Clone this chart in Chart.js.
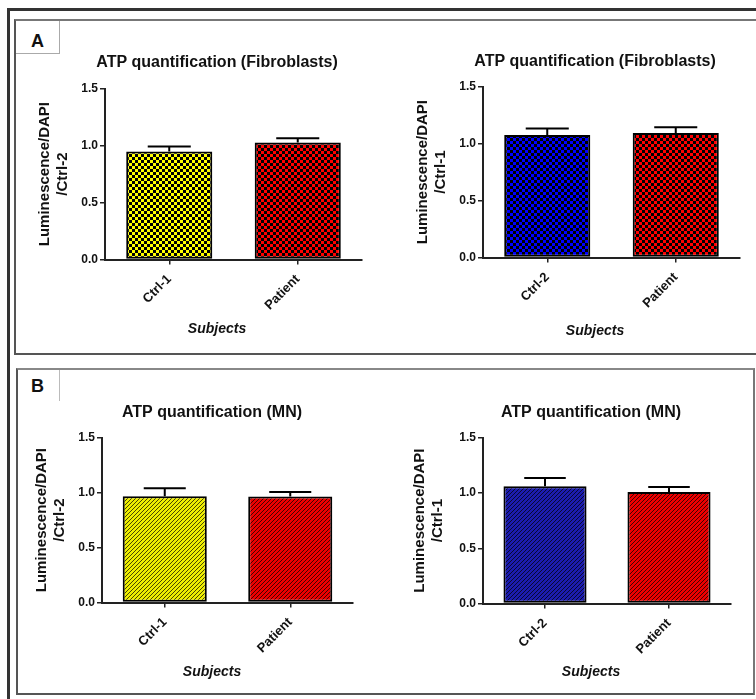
<!DOCTYPE html>
<html>
<head>
<meta charset="utf-8">
<script src="https://cdn.jsdelivr.net/npm/chart.js@4.4.0/dist/chart.umd.min.js"></script>
<style>
  html, body { margin: 0; padding: 0; background: #fff; overflow: hidden; }
  body { width: 756px; height: 699px; position: relative; font-family: "Liberation Sans", Arial, sans-serif; }
  .frame { position: absolute; box-sizing: border-box; }
  canvas { position: absolute; }
  .tag { position: absolute; font-weight: bold; font-size: 18px; color: #111; }
</style>
</head>
<body>
<div class="frame" style="left:7px;top:8px;width:800px;height:800px;border:3px solid #333;"></div>
<div class="frame" style="left:14px;top:19px;width:800px;height:336px;border:2px solid #555;border-top-color:#777;"></div>
<div class="frame" style="left:16px;top:21px;width:44px;height:33px;border-right:1px solid #aaa;border-bottom:1px solid #aaa;"></div>
<div class="tag" style="left:31px;top:31px;">A</div>
<div class="frame" style="left:16px;top:368px;width:739px;height:327px;border:2px solid #555;border-top-color:#888;border-right-color:#777;"></div>
<div class="frame" style="left:59px;top:370px;width:1px;height:31px;background:#bbb;"></div>
<div class="tag" style="left:31px;top:376px;">B</div>

<canvas id="fibroLeft"></canvas>
<canvas id="fibroRight"></canvas>
<canvas id="mnLeft"></canvas>
<canvas id="mnRight"></canvas>

<script>
// values (mean and upper SEM)
const fibroLeftLabels = ['Ctrl-1', 'Patient'];
const fibroLeftMeans = [0.948, 1.027];
const fibroLeftErr = [0.044, 0.037];

const fibroRightLabels = ['Ctrl-2', 'Patient'];
const fibroRightMeans = [1.076, 1.094];
const fibroRightErr = [0.056, 0.05];

const mnLeftLabels = ['Ctrl-1', 'Patient'];
const mnLeftMeans = [0.967, 0.964];
const mnLeftErr = [0.072, 0.041];

const mnRightLabels = ['Ctrl-2', 'Patient'];
const mnRightMeans = [1.06, 1.009];
const mnRightErr = [0.075, 0.045];

const yTicks = [0, 0.5, 1.0, 1.5];
const fibroTitle = 'ATP quantification (Fibroblasts)';
const mnTitle = 'ATP quantification (MN)';
const xTitle = 'Subjects';

const FONT = '"Liberation Sans", Arial, sans-serif';

function checker(color) {
  const c = document.createElement('canvas');
  c.width = 6; c.height = 6;
  const g = c.getContext('2d');
  g.fillStyle = color; g.fillRect(0, 0, 6, 6);
  g.fillStyle = '#000';
  g.fillRect(0, 0, 3, 3); g.fillRect(3, 3, 3, 3);
  return g.createPattern(c, 'repeat');
}

function hatch(color) {
  const c = document.createElement('canvas');
  c.width = 4; c.height = 4;
  const g = c.getContext('2d');
  g.fillStyle = color; g.fillRect(0, 0, 4, 4);
  g.fillStyle = 'rgba(0,0,0,0.7)';
  for (let i = 0; i < 4; i++) g.fillRect(i, 3 - i, 1, 1);
  return g.createPattern(c, 'repeat');
}

const errorBars = {
  id: 'errorBars',
  afterDatasetsDraw(chart, args, opts) {
    const ctx = chart.ctx;
    const y = chart.scales.y;
    const meta = chart.getDatasetMeta(0);
    const means = chart.data.datasets[0].data;
    ctx.save();
    ctx.strokeStyle = '#000';
    ctx.lineWidth = 2;
    meta.data.forEach((bar, i) => {
      const top = y.getPixelForValue(means[i] + opts.values[i]);
      const half = bar.width / 4;
      ctx.beginPath();
      ctx.moveTo(bar.x, bar.y);
      ctx.lineTo(bar.x, top);
      ctx.moveTo(bar.x - half, top);
      ctx.lineTo(bar.x + half, top);
      ctx.stroke();
    });
    ctx.restore();
  }
};

function makeChart(id, g, labels, means, errs, fills, title, yLine2) {
  const canvas = document.getElementById(id);
  const W = Math.round(2 * (g.centerX - g.left));
  const top = g.titleY - 14;
  const H = Math.round(g.subY + 12 - top);
  canvas.width = W; canvas.height = H;
  canvas.style.left = g.left + 'px';
  canvas.style.top = top + 'px';
  canvas.style.width = W + 'px';
  canvas.style.height = H + 'px';

  return new Chart(canvas, {
    type: 'bar',
    data: {
      labels: labels,
      datasets: [{
        data: means,
        backgroundColor: fills,
        borderColor: '#000',
        borderWidth: 2,
        borderSkipped: false,
        barPercentage: 0.67,
        categoryPercentage: 1.0
      }]
    },
    plugins: [errorBars],
    options: {
      responsive: false,
      animation: false,
      layout: { padding: 0 },
      plugins: {
        legend: { display: false },
        tooltip: { enabled: false },
        title: {
          display: true,
          text: title,
          color: '#111',
          font: { family: FONT, size: 16, weight: 'bold', lineHeight: 1.2 },
          padding: { top: 4, bottom: g.plotTop - g.titleY - 9.6 }
        },
        subtitle: {
          display: true,
          position: 'bottom',
          text: xTitle,
          color: '#111',
          font: { family: FONT, size: 14, weight: 'bold', style: 'italic', lineHeight: 1.2 },
          padding: { top: 4, bottom: 4 }
        },
        errorBars: { values: errs }
      },
      scales: {
        x: {
          grid: { display: true, offset: false, drawOnChartArea: false, drawTicks: true, tickLength: 5, color: '#222', lineWidth: 1.5 },
          border: { display: true, color: '#222', width: 2 },
          ticks: {
            color: '#111', minRotation: 45, maxRotation: 45, padding: 7,
            font: { family: FONT, size: 13, weight: 'bold' }
          },
          afterFit(s) { s.height = g.subY - 8.4 - 4 - g.plotBottom; }
        },
        y: {
          min: 0, max: 1.5,
          afterBuildTicks(s) { s.ticks = yTicks.map(v => ({ value: v })); },
          grid: { display: true, drawOnChartArea: false, drawTicks: true, tickLength: 5, color: '#222', lineWidth: 1.5 },
          border: { display: true, color: '#222', width: 2 },
          ticks: {
            color: '#111', padding: 2,
            font: { family: FONT, size: 12, weight: 'bold' },
            callback: v => Number(v).toFixed(1)
          },
          title: {
            display: true,
            text: ['Luminescence/DAPI', yLine2],
            color: '#111',
            font: { family: FONT, size: 15, weight: 'bold', lineHeight: 1.25 },
            padding: { top: 5, bottom: 0 }
          },
          afterFit(s) { s.width = g.plotLeft - g.left; }
        },
        pad: {
          type: 'linear', position: 'right', display: true,
          grid: { display: false }, border: { display: false }, ticks: { display: false },
          afterFit(s) { s.width = W - (g.plotRight - g.left); }
        }
      }
    }
  });
}

makeChart('fibroLeft',
  { left: 30, centerX: 217, plotLeft: 105, plotRight: 362, plotTop: 89, plotBottom: 260, titleY: 63, subY: 330 },
  fibroLeftLabels, fibroLeftMeans, fibroLeftErr,
  [checker('#ffff00'), checker('#ff0000')], fibroTitle, '/Ctrl-2');

makeChart('fibroRight',
  { left: 408, centerX: 595, plotLeft: 483, plotRight: 740, plotTop: 87, plotBottom: 258, titleY: 62, subY: 332 },
  fibroRightLabels, fibroRightMeans, fibroRightErr,
  [checker('#0000ff'), checker('#ff0000')], fibroTitle, '/Ctrl-1');

makeChart('mnLeft',
  { left: 27, centerX: 212, plotLeft: 102, plotRight: 353, plotTop: 438, plotBottom: 603, titleY: 413, subY: 673 },
  mnLeftLabels, mnLeftMeans, mnLeftErr,
  [hatch('#eeee00'), hatch('#ee0000')], mnTitle, '/Ctrl-2');

makeChart('mnRight',
  { left: 405, centerX: 591, plotLeft: 483, plotRight: 731, plotTop: 438, plotBottom: 604, titleY: 413, subY: 673 },
  mnRightLabels, mnRightMeans, mnRightErr,
  [hatch('#1c1cb0'), hatch('#ee0000')], mnTitle, '/Ctrl-1');
</script>
</body>
</html>
